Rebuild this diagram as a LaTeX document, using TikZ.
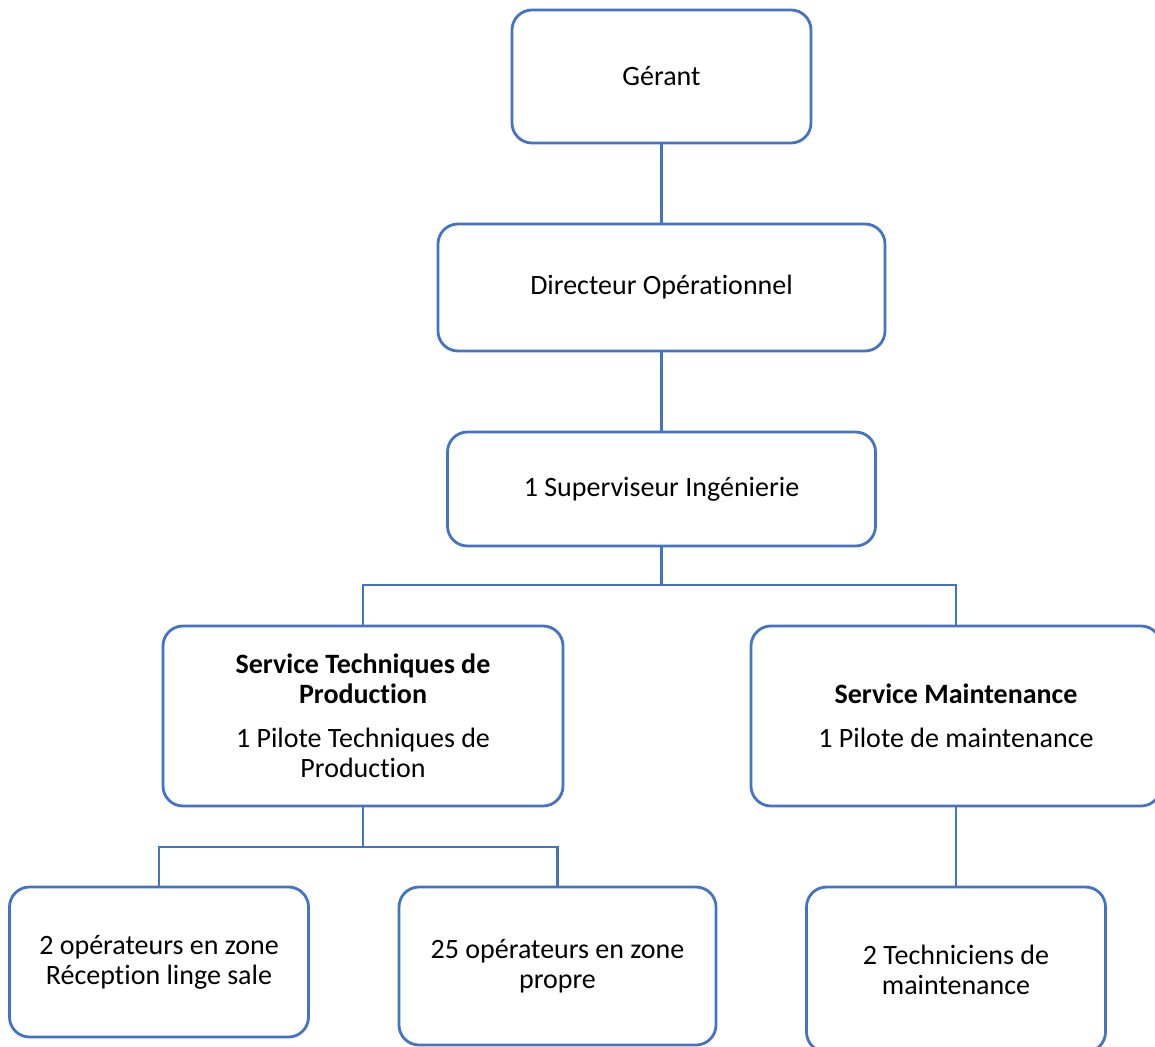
\documentclass[tikz,border=0pt]{standalone}
\usepackage{fontspec}
\setmainfont[Ligatures={NoCommon}]{Carlito}
\definecolor{obl}{HTML}{4472C4}
\begin{document}
\begin{tikzpicture}[x=0.5pt,y=-0.5pt,
  box/.style={draw=obl,line width=1.4pt,rounded corners=10pt,fill=white,align=center,
    font=\fontsize{14}{15}\selectfont,inner sep=0pt},
  link/.style={draw=obl,line width=1.2pt}]
\useasboundingbox (0,0) rectangle (1155,1047);
\clip (0,0) rectangle (1155,1047);
\fill[white] (0,0) rectangle (1155,1047);
\node[box,minimum width=149.5pt,minimum height=66.5pt] (ger) at (661.5,76.5) {Gérant};
\node[box,minimum width=223.5pt,minimum height=63.5pt] (dir) at (661.5,287.5) {Directeur Opérationnel};
\node[box,minimum width=214pt,minimum height=57pt] (sup) at (661.5,489) {1 Superviseur Ingénierie};
\node[box,minimum width=200pt,minimum height=90pt] (stp) at (363,716)
  {\textbf{Service Techniques de}\\\textbf{Production}\\[7pt]1 Pilote Techniques de\\Production};
\node[box,minimum width=205pt,minimum height=90pt] (sm) at (956,716)
  {\textbf{Service Maintenance}\\[7pt]1 Pilote de maintenance};
\node[box,minimum width=149.5pt,minimum height=75pt] (b1) at (159,962)
  {2 opérateurs en zone\\Réception linge sale};
\node[box,minimum width=158.5pt,minimum height=79pt] (b2) at (557.5,966)
  {25 opérateurs en zone\\propre};
\node[box,minimum width=149.5pt,minimum height=82.5pt] (b3) at (956,969.5)
  {2 Techniciens de\\maintenance};
\coordinate (j1) at (661.5,585);
\coordinate (j2) at (363,847);
\draw[link] (ger.south) -- (dir.north);
\draw[link] (dir.south) -- (sup.north);
\draw[link] (sup.south) -- (j1);
\draw[link] (j1) -| (stp.north);
\draw[link] (j1) -| (sm.north);
\draw[link] (stp.south) -- (j2);
\draw[link] (j2) -| (b1.north);
\draw[link] (j2) -| (b2.north);
\draw[link] (sm.south) -- (b3.north);
\end{tikzpicture}
\end{document}
